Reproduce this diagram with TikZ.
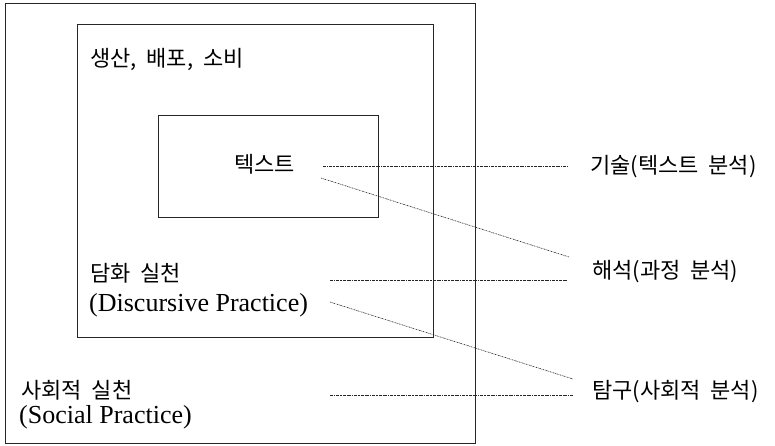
\documentclass[tikz,border=0pt]{standalone}
\usepackage{fontspec}
\setmainfont{Liberation Serif}
\newfontfamily\krfont[WordSpace=2]{Noto Sans CJK KR}
\begin{document}
\begin{tikzpicture}[x=1pt,y=-1pt,
  box/.style={draw=black!85, line width=0.8pt},
  krtext/.style={font=\krfont\fontsize{22}{25}\selectfont, inner sep=0pt, anchor=west},
  lattext/.style={font=\fontsize{26}{30}\selectfont, inner sep=0pt, anchor=west},
  leader/.style={draw=black!85, line width=0.6pt, dash pattern=on 1.5pt off 0.8pt on 0.5pt off 0.8pt}]
\useasboundingbox (0,0) rectangle (775,445);
% frames
\draw[box] (5,3) rectangle (475,443);
\draw[box] (77,24) rectangle (433,337);
\draw[box] (158,115) rectangle (378,217);
% texts
\node[krtext] (sbs) at (90,59) {생산, 배포, 소비};
\node[krtext] (txt) at (234,164) {텍스트};
\node[krtext] (dp1) at (90,273) {담화 실천};
\node[lattext] (dp2) at (89,305) {(Discursive Practice)};
\node[krtext] (sp1) at (21,390) {사회적 실천};
\node[lattext] (sp2) at (19,417) {(Social Practice)};
\node[krtext] (desc) at (590,167) {기술(텍스트 분석)};
\node[krtext] (intp) at (592,272) {해석(과정 분석)};
\node[krtext] (expl) at (592,392) {탐구(사회적 분석)};
% leader end points
\coordinate (a1) at (323,166); \coordinate (b1) at (567,166);
\coordinate (a2) at (321,178); \coordinate (b2) at (569,257);
\coordinate (a3) at (330,280); \coordinate (b3) at (567,280);
\coordinate (a4) at (330,302); \coordinate (b4) at (573,379);
\coordinate (a5) at (330,395); \coordinate (b5) at (573,395);
\draw[leader] (a1) -- (b1);
\draw[leader] (a2) -- (b2);
\draw[leader] (a3) -- (b3);
\draw[leader] (a4) -- (b4);
\draw[leader] (a5) -- (b5);
\end{tikzpicture}
\end{document}
